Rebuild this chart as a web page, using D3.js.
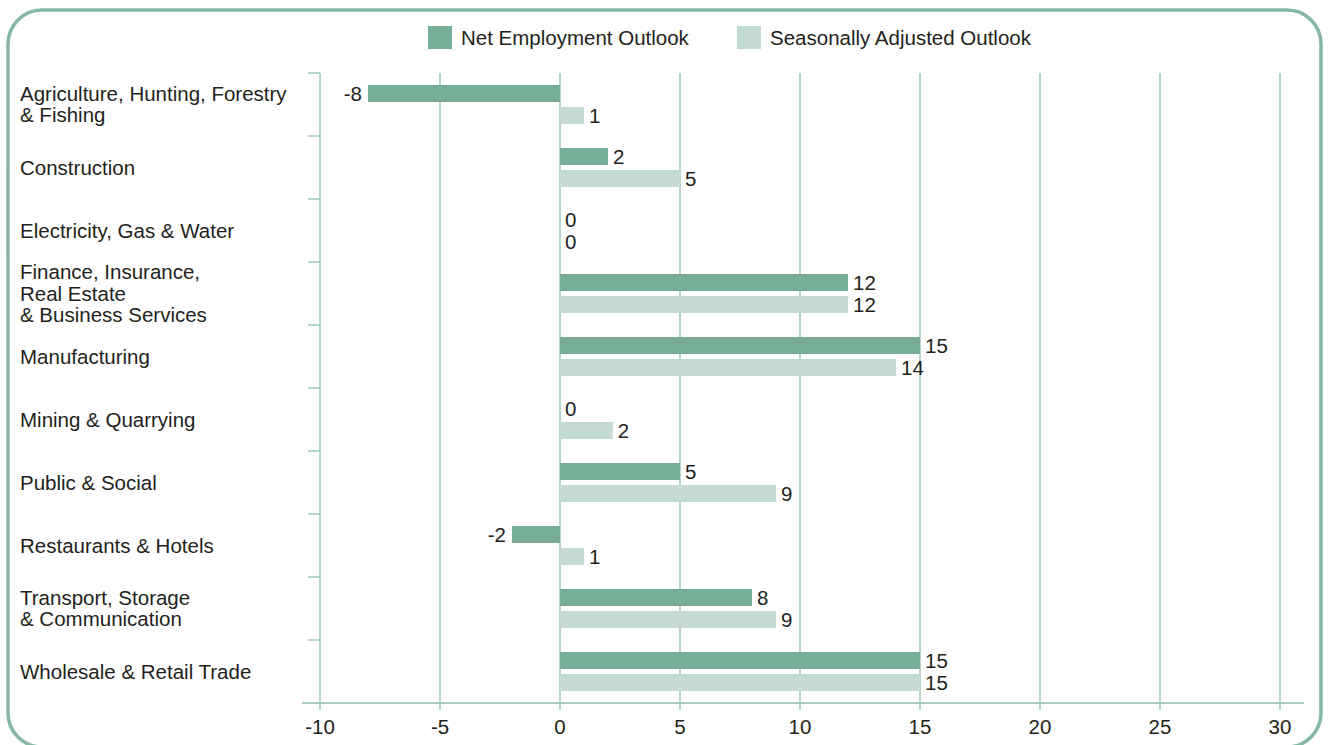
<!DOCTYPE html>
<html><head><meta charset="utf-8">
<script src="https://cdn.jsdelivr.net/npm/d3@7"></script>
<style>
html,body{margin:0;padding:0;background:#fff;}
svg{display:block;font-family:"Liberation Sans",Arial,sans-serif;}
</style></head>
<body><svg id="c" width="1328" height="745"></svg>
<script>
const categories = [
  "Agriculture, Hunting, Forestry\n& Fishing",
  "Construction",
  "Electricity, Gas & Water",
  "Finance, Insurance,\nReal Estate\n& Business Services",
  "Manufacturing",
  "Mining & Quarrying",
  "Public & Social",
  "Restaurants & Hotels",
  "Transport, Storage\n& Communication",
  "Wholesale & Retail Trade"
];
const netOutlook = [-8, 2, 0, 12, 15, 0, 5, -2, 8, 15];
const seasonalOutlook = [1, 5, 0, 12, 14, 2.2, 9, 1, 9, 15];
const seriesNames = ["Net Employment Outlook", "Seasonally Adjusted Outlook"];
const xTicks = [-10, -5, 0, 5, 10, 15, 20, 25, 30];

const colors = ["#78ae98", "#c3dbd1"];
const gridColor = "#8fc0ad";
const textColor = "#231f20";
const fs = 20.5;

const svg = d3.select("#c");
// frame
svg.append("rect").attr("x", 8).attr("y", 10).attr("width", 1313).attr("height", 737)
  .attr("rx", 34).attr("ry", 34).attr("fill", "none").attr("stroke", "#84b8a3").attr("stroke-width", 3.5);

const x = d3.scaleLinear().domain([-10, 30]).range([320, 1280]);
const y = d3.scaleBand().domain(d3.range(categories.length)).range([73, 703]).paddingInner(0).paddingOuter(0);
const barH = 17, gap = 5;
const groupOff = (y.bandwidth() - (2 * barH + gap)) / 2;

const fmt = v => d3.format(".0f")(v).replace("\u2212", "-");

// grid lines
svg.append("g").selectAll("line").data(xTicks).join("line")
  .attr("x1", d => x(d)).attr("x2", d => x(d))
  .attr("y1", 73).attr("y2", 710)
  .attr("stroke", gridColor).attr("stroke-width", 1.3);

// x axis baseline
svg.append("line").attr("x1", 302).attr("x2", 1304).attr("y1", 703).attr("y2", 703)
  .attr("stroke", gridColor).attr("stroke-width", 1.5);

// left axis ticks
const bounds = d3.range(categories.length).map(i => y(i));
svg.append("g").selectAll("line").data(bounds).join("line")
  .attr("x1", 308).attr("x2", 320).attr("y1", d => d).attr("y2", d => d)
  .attr("stroke", gridColor).attr("stroke-width", 1.3);

// x tick labels
svg.append("g").selectAll("text").data(xTicks).join("text")
  .attr("x", d => x(d)).attr("y", 734).attr("text-anchor", "middle")
  .attr("font-size", fs).attr("fill", textColor).text(d => fmt(d));

// category labels
const catG = svg.append("g");
categories.forEach((c, i) => {
  const lines = c.split("\n");
  const lh = 21.5;
  const cy = y(i) + y.bandwidth() / 2;
  const t = catG.append("text").attr("font-size", fs).attr("fill", textColor);
  lines.forEach((l, j) => {
    t.append("tspan").attr("x", 20)
      .attr("y", cy + (j - (lines.length - 1) / 2) * lh)
      .attr("dy", "0.35em").text(l);
  });
});

[netOutlook, seasonalOutlook].forEach((vals, s) => {
  const g = svg.append("g");
  g.selectAll("rect").data(vals).join("rect")
    .attr("x", d => x(Math.min(0, d)))
    .attr("width", d => Math.abs(x(d) - x(0)))
    .attr("y", (d, i) => y(i) + groupOff + s * (barH + gap))
    .attr("height", barH)
    .attr("fill", colors[s]);
  g.selectAll("text").data(vals).join("text")
    .attr("x", d => d < 0 ? x(d) - 6 : x(d) + 5)
    .attr("text-anchor", d => d < 0 ? "end" : "start")
    .attr("y", (d, i) => y(i) + groupOff + s * (barH + gap) + barH / 2)
    .attr("dy", "0.36em")
    .attr("font-size", fs).attr("fill", textColor)
    .text(d => fmt(d));
});

// legend
const legend = svg.append("g");
const legX = [428, 737];
seriesNames.forEach((n, i) => {
  legend.append("rect").attr("x", legX[i]).attr("y", 26).attr("width", 24).attr("height", 23).attr("fill", colors[i]);
  legend.append("text").attr("x", legX[i] + 33).attr("y", 37.5).attr("dy", "0.35em")
    .attr("font-size", fs).attr("fill", textColor).text(n);
});
</script>
</body></html>
